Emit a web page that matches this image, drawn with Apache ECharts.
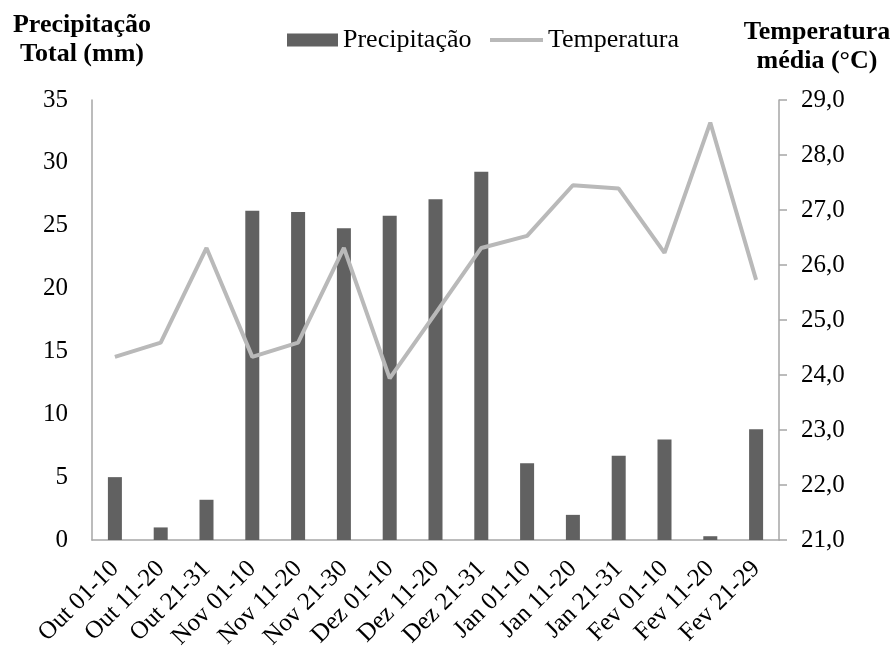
<!DOCTYPE html>
<html>
<head>
<meta charset="utf-8">
<script src="https://cdn.jsdelivr.net/npm/echarts@6/dist/echarts.min.js"></script>
<style>
  html, body { margin: 0; padding: 0; background: #fff; }
  #chart { width: 893px; height: 649px; }
</style>
</head>
<body>
<div id="chart"></div>
<script>
// Ten-day periods, October to February
const periods = [
  'Out 01-10', 'Out 11-20', 'Out 21-31',
  'Nov 01-10', 'Nov 11-20', 'Nov 21-30',
  'Dez 01-10', 'Dez 11-20', 'Dez 21-31',
  'Jan 01-10', 'Jan 11-20', 'Jan 21-31',
  'Fev 01-10', 'Fev 11-20', 'Fev 21-29'
];
// Total precipitation per period (mm)
const precipitacao = [5.0, 1.0, 3.2, 26.2, 26.1, 24.8, 25.8, 27.1, 29.3, 6.1, 2.0, 6.7, 8.0, 0.3, 8.8];
// Mean air temperature per period (°C)
const temperatura = [24.33, 24.59, 26.31, 24.33, 24.59, 26.31, 23.94, 25.12, 26.31, 26.53, 27.45, 27.39, 26.22, 28.59, 25.73];

const serif = '"Liberation Serif", "Times New Roman", serif';
const axisGray = '#a6a6a6';
const barColor = '#616161';
const lineColor = '#b9b9b9';

const chart = echarts.init(document.getElementById('chart'), null, { renderer: 'canvas' });

const legendText = { fontFamily: serif, fontSize: 26, color: '#000' };

chart.setOption({
  animation: false,
  backgroundColor: '#ffffff',
  textStyle: { fontFamily: serif, color: '#000' },
  grid: {
    left: 92, right: 114, top: 100, bottom: 109,
    containLabel: false,
    outerBoundsMode: 'none'
  },
  legend: [
    {
      left: 282,
      top: 22,
      itemWidth: 51,
      itemHeight: 13,
      textStyle: legendText,
      data: [{ name: 'Precipitação', icon: 'rect' }]
    },
    {
      left: 485,
      top: 22,
      itemWidth: 53,
      itemHeight: 4,
      textStyle: legendText,
      data: [{ name: 'Temperatura', icon: 'rect' }]
    }
  ],
  xAxis: {
    type: 'category',
    data: periods,
    axisLine: { lineStyle: { color: axisGray, width: 1.5 } },
    axisTick: { show: false },
    axisLabel: {
      rotate: 45,
      interval: 0,
      margin: 25,
      fontFamily: serif,
      fontSize: 25,
      color: '#000'
    }
  },
  yAxis: [
    {
      type: 'value',
      min: 0,
      max: 35,
      interval: 5,
      position: 'left',
      splitLine: { show: false },
      axisLine: { show: true, lineStyle: { color: axisGray, width: 1.5 } },
      axisTick: { show: false },
      axisLabel: { margin: 24, fontFamily: serif, fontSize: 25, color: '#000' }
    },
    {
      type: 'value',
      min: 21,
      max: 29,
      interval: 1,
      position: 'right',
      splitLine: { show: false },
      axisLine: { show: true, lineStyle: { color: axisGray, width: 1.5 } },
      axisTick: { show: true, length: 8, lineStyle: { color: axisGray, width: 1.5 } },
      axisLabel: {
        margin: 22,
        fontFamily: serif,
        fontSize: 25,
        color: '#000',
        formatter: v => v.toFixed(1).replace('.', ',')
      }
    }
  ],
  series: [
    {
      name: 'Precipitação',
      type: 'bar',
      yAxisIndex: 0,
      data: precipitacao,
      barWidth: 14,
      itemStyle: { color: barColor }
    },
    {
      name: 'Temperatura',
      type: 'line',
      yAxisIndex: 1,
      data: temperatura,
      symbol: 'none',
      lineStyle: { color: lineColor, width: 4 },
      itemStyle: { color: lineColor }
    }
  ],
  graphic: [
    {
      type: 'text',
      style: {
        x: 82, y: 11,
        text: 'Precipitação\nTotal (mm)',
        align: 'center',
        verticalAlign: 'top',
        fontFamily: serif,
        fontSize: 26,
        fontWeight: 'bold',
        lineHeight: 29,
        fill: '#000'
      }
    },
    {
      type: 'text',
      style: {
        x: 817, y: 18,
        text: 'Temperatura\nmédia (°C)',
        align: 'center',
        verticalAlign: 'top',
        fontFamily: serif,
        fontSize: 26,
        fontWeight: 'bold',
        lineHeight: 29,
        fill: '#000'
      }
    }
  ]
});
</script>
</body>
</html>
